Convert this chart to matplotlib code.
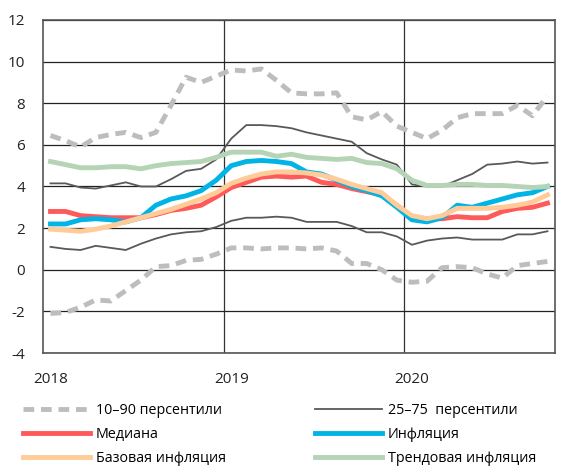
import numpy as np
import matplotlib
matplotlib.use('Agg')
import matplotlib.pyplot as plt

plt.rcParams['font.family'] = ['Open Sans', 'DejaVu Sans']
plt.rcParams['axes.unicode_minus'] = False

# monthly data, Jan 2018 - Oct 2020
years = ['2018', '2019', '2020']
p90 = [6.45, 6.2, 5.9, 6.35, 6.5, 6.6, 6.35, 6.6, 7.9, 9.25, 9.0, 9.3,
       9.6, 9.55, 9.65, 9.1, 8.5, 8.45, 8.45, 8.5, 7.35, 7.2, 7.6, 6.9,
       6.6, 6.3, 6.7, 7.3, 7.5, 7.5, 7.5, 7.9, 7.4, 8.35]
p10 = [-2.1, -2.05, -1.8, -1.45, -1.5, -1.0, -0.5, 0.15, 0.2, 0.45, 0.5, 0.75,
       1.05, 1.05, 1.0, 1.05, 1.05, 1.0, 1.05, 0.9, 0.3, 0.3, 0.0, -0.5,
       -0.6, -0.55, 0.1, 0.15, 0.1, -0.2, -0.4, 0.2, 0.3, 0.4]
p75 = [4.15, 4.15, 3.95, 3.9, 4.05, 4.2, 4.0, 4.0, 4.35, 4.75, 4.85, 5.3,
       6.3, 6.95, 6.95, 6.9, 6.8, 6.6, 6.45, 6.3, 6.15, 5.6, 5.3, 5.05,
       4.1, 4.0, 4.0, 4.3, 4.6, 5.05, 5.1, 5.2, 5.1, 5.15]
p25 = [1.1, 1.0, 0.95, 1.15, 1.05, 0.95, 1.25, 1.5, 1.7, 1.8, 1.85, 2.05,
       2.35, 2.5, 2.5, 2.55, 2.5, 2.3, 2.3, 2.3, 2.1, 1.8, 1.8, 1.6,
       1.2, 1.4, 1.5, 1.55, 1.45, 1.45, 1.45, 1.7, 1.7, 1.85]
median = [2.8, 2.8, 2.6, 2.55, 2.5, 2.5, 2.5, 2.65, 2.85, 2.95, 3.1, 3.5,
          3.95, 4.2, 4.45, 4.5, 4.45, 4.5, 4.2, 4.1, 3.9, 3.75, 3.6, 3.1,
          2.55, 2.45, 2.45, 2.55, 2.5, 2.5, 2.8, 2.95, 3.0, 3.2]
infl = [2.2, 2.2, 2.4, 2.45, 2.4, 2.3, 2.5, 3.1, 3.4, 3.55, 3.8, 4.3,
        5.0, 5.2, 5.25, 5.2, 5.1, 4.7, 4.6, 4.3, 4.0, 3.8, 3.55, 3.0,
        2.4, 2.3, 2.5, 3.1, 3.0, 3.2, 3.4, 3.6, 3.7, 4.0]
core = [1.95, 1.9, 1.85, 1.95, 2.1, 2.3, 2.5, 2.7, 2.9, 3.15, 3.4, 3.7,
        4.15, 4.4, 4.6, 4.7, 4.7, 4.65, 4.55, 4.35, 4.1, 3.9, 3.7, 3.1,
        2.6, 2.45, 2.6, 2.95, 2.95, 2.95, 3.0, 3.1, 3.25, 3.6]
trend = [5.2, 5.05, 4.9, 4.9, 4.95, 4.95, 4.85, 5.0, 5.1, 5.15, 5.2, 5.4,
         5.65, 5.65, 5.65, 5.45, 5.55, 5.4, 5.35, 5.3, 5.35, 5.15, 5.1, 4.85,
         4.3, 4.05, 4.05, 4.1, 4.1, 4.05, 4.05, 4.0, 3.95, 4.0]

x = np.arange(len(infl))

fig = plt.figure(figsize=(5.73, 4.69), dpi=100)
ax = fig.add_axes([0.075, 0.2473, 0.8936, 0.7101])

lw = 3.5
l1, = ax.plot(x, p90, color='#bdbdbd', lw=lw, dashes=(2.2, 1.4), label='10–90 персентили')
ax.plot(x, p10, color='#bdbdbd', lw=lw, dashes=(2.2, 1.4))
l2, = ax.plot(x, p75, color='#595959', lw=1.3, label='25–75  персентили')
ax.plot(x, p25, color='#595959', lw=1.3)
l3, = ax.plot(x, median, color='#ff5a5a', lw=lw, label='Медиана')
l4, = ax.plot(x, infl, color='#00b4e6', lw=lw, label='Инфляция')
l5, = ax.plot(x, core, color='#ffcc99', lw=lw, label='Базовая инфляция')
l6, = ax.plot(x, trend, color='#b5d3b5', lw=lw, label='Трендовая инфляция')

ax.set_ylim(-4, 12)
ax.set_yticks(np.arange(-4, 13, 2))
ax.set_xlim(-0.5, len(x) - 0.5)
ax.set_xticks([0, 12, 24])
ax.set_xticklabels(years)
ax.set_xticks([11.5, 23.5], minor=True)
ax.grid(axis='y', which='major', color='#222222', lw=0.9)
ax.grid(axis='x', which='minor', color='#333333', lw=0.9)
ax.set_axisbelow(True)
ax.tick_params(axis='both', which='both', length=0, labelsize=11, colors='#222222')
ax.tick_params(axis='y', pad=13)
ax.tick_params(axis='x', pad=14)
for s in ax.spines.values():
    s.set_color('#555555')
    s.set_linewidth(1.2)

fig.legend(handles=[l1, l3, l5, l2, l4, l6], ncol=2, loc='upper left',
           bbox_to_anchor=(0.04, 0.14), frameon=False, fontsize=10.3,
           handlelength=4.7, handletextpad=0.4, columnspacing=6.2,
           labelspacing=0.62, borderaxespad=0, borderpad=0)

fig.savefig('out.png', dpi=100)
